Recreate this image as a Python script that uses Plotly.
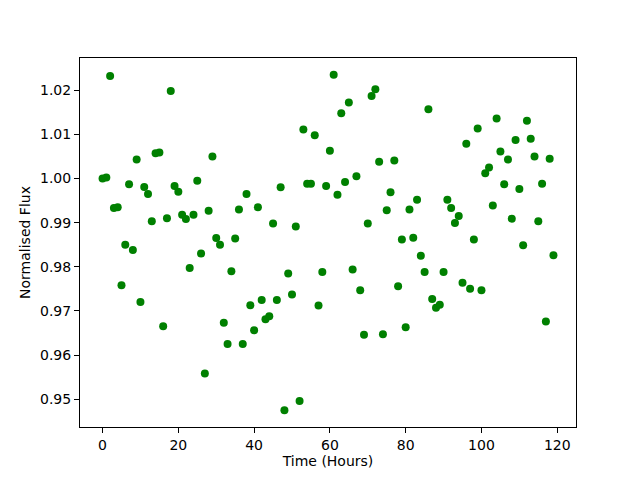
import plotly.graph_objects as go

hours = list(range(120))
flux = [
    1.0000, 1.0002, 1.0232, 0.9933, 0.9935, 0.9758, 0.9850, 0.9987, 0.9838, 1.0043,
    0.9720, 0.9981, 0.9965, 0.9903, 1.0057, 1.0059, 0.9665, 0.9910, 1.0198, 0.9983,
    0.9970, 0.9918, 0.9908, 0.9797, 0.9918, 0.9995, 0.9830, 0.9558, 0.9927, 1.0050,
    0.9865, 0.9850, 0.9673, 0.9625, 0.9790, 0.9864, 0.9930, 0.9625, 0.9965, 0.9713,
    0.9656, 0.9935, 0.9725, 0.9681, 0.9688, 0.9898, 0.9725, 0.9980, 0.9475, 0.9785,
    0.9737, 0.9891, 0.9496, 1.0111, 0.9988, 0.9988, 1.0098, 0.9712, 0.9788, 0.9983,
    1.0063, 1.0235, 0.9963, 1.0148, 0.9992, 1.0172, 0.9794, 1.0005, 0.9747, 0.9646,
    0.9898, 1.0187, 1.0202, 1.0038, 0.9647, 0.9928, 0.9969, 1.0041, 0.9756, 0.9862,
    0.9663, 0.9930, 0.9866, 0.9952, 0.9825, 0.9788, 1.0157, 0.9727, 0.9707, 0.9714,
    0.9788, 0.9952, 0.9933, 0.9899, 0.9915, 0.9764, 1.0079, 0.9750, 0.9862, 1.0113,
    0.9747, 1.0012, 1.0025, 0.9939, 1.0136, 1.0061, 0.9987, 1.0043, 0.9909, 1.0087,
    0.9976, 0.9849, 1.0131, 1.0090, 1.0050, 0.9903, 0.9988, 0.9676, 1.0045, 0.9826,
]
x_ticks = [0, 20, 40, 60, 80, 100, 120]
y_ticks = [0.95, 0.96, 0.97, 0.98, 0.99, 1.00, 1.01, 1.02]

fig = go.Figure(go.Scatter(
    x=hours, y=flux, mode="markers",
    marker=dict(color="#008000", size=8, line=dict(width=0)),
))

ax_common = dict(
    showline=True, mirror=True, linecolor="black", linewidth=1,
    ticks="outside", ticklen=5, tickwidth=1, tickcolor="black",
    showgrid=False, zeroline=False, automargin=False,
    tickfont=dict(family="DejaVu Sans", size=14, color="black"),
    title_font=dict(family="DejaVu Sans", size=14, color="black"),
)
xmin, xmax = min(hours), max(hours)
ymin, ymax = min(flux), max(flux)
xpad = (xmax - xmin) * 0.05
ypad = (ymax - ymin) * 0.05

fig.update_xaxes(range=[xmin - xpad, xmax + xpad], tickvals=x_ticks,
                 title_text="Time (Hours)", title_standoff=4, **ax_common)
fig.update_yaxes(range=[ymin - ypad, ymax + ypad], tickvals=y_ticks,
                 tickformat=".2f", title_text="Normalised Flux", title_standoff=6,
                 **ax_common)

fig.update_layout(
    width=632, height=472,
    margin=dict(l=72, r=64, t=50, b=53),
    plot_bgcolor="white", paper_bgcolor="white",
    showlegend=False,
    font=dict(family="DejaVu Sans", size=14, color="black"),
)
fig.write_html("out.html")
